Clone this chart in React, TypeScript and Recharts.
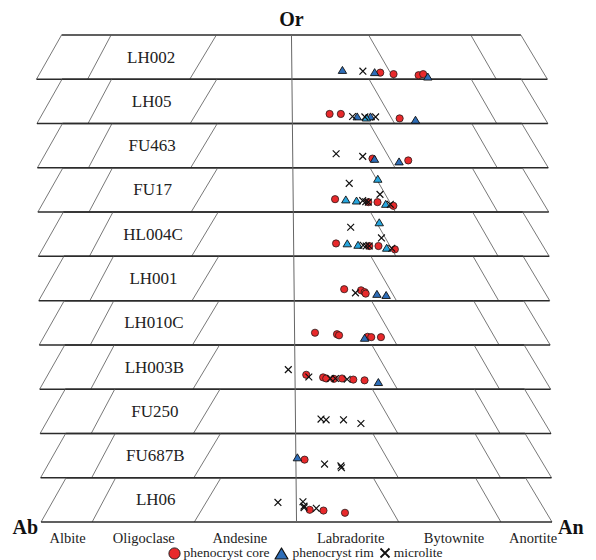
import { ScatterChart, Scatter, XAxis, YAxis, ReferenceLine } from 'recharts';

// Samples, top strip first.
const samples = ['LH002', 'LH05', 'FU463', 'FU17', 'HL004C', 'LH001', 'LH010C', 'LH003B', 'FU250', 'FU687B', 'LH06'];

// Plagioclase fields along the Ab–An base and where their names sit.
const fieldNames = ['Albite', 'Oligoclase', 'Andesine', 'Labradorite', 'Bytownite', 'Anortite'];
const fieldTicks = [6.2, 21.1, 39.9, 61.6, 81.8, 97.3];

// Field boundaries on the bottom and the top edge of every strip (An units).
const divBottom = [0, 10, 30, 50, 70, 90, 100];
const divTop = [5, 14.7, 35.3, 50, 65.1, 85.1, 94.9];

// Height of one strip, in Or units.
const STRIP = 12;

// [sample index, An, Or]
type Pt = [number, number, number];

const cores: Pt[] = [
  [0, 67.3, 1.8], [0, 69.9, 1.4], [0, 74.8, 1.1], [0, 75.7, 1.4],
  [1, 57.3, 2.6], [1, 59.5, 2.6], [1, 71.0, 1.4],
  [2, 65.6, 2.5], [2, 72.6, 2.0],
  [3, 58.2, 3.5], [3, 64.7, 2.7], [3, 66.5, 2.7], [3, 69.6, 1.7],
  [4, 58.3, 3.5], [4, 64.8, 2.8], [4, 66.6, 2.8], [4, 69.8, 1.9],
  [5, 59.8, 3.1], [5, 63.1, 2.8], [5, 63.8, 2.3], [5, 64.0, 1.9],
  [6, 54.0, 3.3], [6, 58.3, 2.9], [6, 58.7, 2.6], [6, 64.3, 2.2], [6, 65.0, 2.1], [6, 66.9, 2.1],
  [7, 52.2, 3.9], [7, 55.5, 3.2], [7, 56.1, 2.9], [7, 57.6, 2.8], [7, 59.2, 2.9], [7, 61.4, 2.6], [7, 63.6, 2.4],
  [9, 51.7, 4.9],
  [10, 52.6, 3.3], [10, 55.3, 3.1], [10, 59.5, 2.5],
];

const rims: Pt[] = [
  [0, 59.9, 2.4], [0, 66.2, 1.8], [0, 76.6, 0.6],
  [1, 62.7, 1.8], [1, 65.3, 1.8], [1, 74.1, 0.9],
  [2, 66.0, 2.3], [2, 70.8, 1.6],
  [5, 66.2, 1.7], [5, 68.0, 1.4],
  [6, 63.7, 1.8],
  [7, 66.3, 1.8],
  [9, 50.3, 5.4],
];

// rims printed in the lighter blue
const rimsLight: Pt[] = [
  [1, 64.5, 1.5],
  [3, 66.6, 8.9], [3, 60.3, 3.3], [3, 62.4, 3.0], [3, 68.1, 2.1],
  [4, 66.8, 9.1], [4, 60.5, 3.4], [4, 62.6, 3.0], [4, 68.2, 2.2],
];

const microlites: Pt[] = [
  [0, 63.9, 2.2],
  [1, 61.8, 1.9], [1, 64.2, 1.8], [1, 66.3, 1.8],
  [2, 58.5, 3.8], [2, 63.7, 3.1],
  [3, 61.0, 7.8], [3, 67.0, 4.8], [3, 63.6, 3.1], [3, 64.2, 2.8], [3, 64.7, 2.7], [3, 69.0, 2.1],
  [4, 61.2, 7.9], [4, 67.2, 5.0], [4, 63.6, 3.0], [4, 64.2, 2.8], [4, 64.8, 2.8], [4, 69.2, 2.2],
  [5, 62.0, 2.1],
  [7, 48.7, 5.3], [7, 52.7, 3.3], [7, 56.9, 2.9], [7, 57.9, 2.9], [7, 60.2, 2.7],
  [8, 55.0, 3.9], [8, 56.0, 3.7], [8, 59.4, 3.7], [8, 62.8, 2.7],
  [9, 55.6, 3.7], [9, 58.8, 3.2], [9, 58.9, 2.7],
  [10, 46.4, 5.3], [10, 51.3, 5.5], [10, 51.5, 4.3], [10, 51.5, 3.9], [10, 53.9, 3.7],
];

const TOP = samples.length * STRIP;
// the printed stack leans a little to the right going down
const LEAN = 0.0075;
const sx = (x: number, y: number) => x + LEAN * (TOP - y);
const base = (i: number) => (samples.length - 1 - i) * STRIP;

const toRows = (pts: Pt[]) =>
  pts.map(([i, an, or]) => {
    const y = base(i) + or;
    return { x: sx(an, y), y };
  });

const nameRows = samples.map((name, i) => {
  const y = base(i) + STRIP / 2;
  return { x: sx(22.5, y), y, name };
});

const apexRows = [
  { x: sx(50, TOP), y: TOP, name: 'Or' },
  { x: sx(0, 0), y: 0, name: 'Ab' },
  { x: sx(100, 0), y: 0, name: 'An' },
];

type Seg = { a: [number, number]; z: [number, number]; edge: boolean };
const segments: Seg[] = [];
samples.forEach((_, i) => {
  const b = base(i);
  const t = b + STRIP;
  segments.push({ a: [divTop[0], t], z: [divTop[divTop.length - 1], t], edge: true });
  divBottom.forEach((d, j) => {
    if (d !== 50) segments.push({ a: [d, b], z: [divTop[j], t], edge: false });
  });
  segments.push({ a: [0, b], z: [100, b], edge: true });
});

const SERIF = "'Times New Roman', 'Liberation Serif', 'DejaVu Serif', serif";
const RED = '#e8292b';
const BLUE = '#2d6db8';
const CYAN = '#27a6de';

function CoreDot(p: any) {
  return <circle cx={p.cx} cy={p.cy} r={3.6} fill={RED} stroke="#2a1a1a" strokeWidth={0.8} />;
}

function rimShape(fill: string) {
  return (p: any) => (
    <path
      d={`M${p.cx},${p.cy - 4} L${p.cx + 4.2},${p.cy + 3} L${p.cx - 4.2},${p.cy + 3} Z`}
      fill={fill}
      stroke="#111"
      strokeWidth={0.9}
      strokeLinejoin="round"
    />
  );
}

function Cross(p: any) {
  const s = 3.4;
  return (
    <path
      d={`M${p.cx - s},${p.cy - s} L${p.cx + s},${p.cy + s} M${p.cx - s},${p.cy + s} L${p.cx + s},${p.cy - s}`}
      stroke="#111"
      strokeWidth={1.2}
      fill="none"
    />
  );
}

function NameLabel(p: any) {
  return (
    <text x={p.cx} y={p.cy} textAnchor="middle" dominantBaseline="central" style={{ fontFamily: SERIF }} fontSize={17} fill="#222">
      {p.payload.name}
    </text>
  );
}

function ApexLabel(p: any) {
  const name = p.payload.name;
  let x = p.cx;
  let y = p.cy + 5;
  let anchor = 'middle';
  if (name === 'Or') y = p.cy - 16;
  if (name === 'Ab') {
    x = p.cx - 3;
    anchor = 'end';
  }
  if (name === 'An') {
    x = p.cx + 6;
    anchor = 'start';
  }
  return (
    <text x={x} y={y} textAnchor={anchor} dominantBaseline="central" style={{ fontFamily: SERIF }} fontWeight="bold" fontSize={20} fill="#111">
      {name}
    </text>
  );
}

function Legend() {
  const item = { display: 'flex', alignItems: 'center', gap: 3 } as const;
  return (
    <div
      style={{
        position: 'absolute',
        left: 0,
        top: 545,
        width: 610,
        display: 'flex',
        justifyContent: 'center',
        gap: 5,
        fontFamily: SERIF,
        fontSize: 13.5,
        color: '#222',
        lineHeight: '16px',
      }}
    >
      <span style={item}>
        <svg width={13} height={13}>
          <circle cx={6.5} cy={6.5} r={5.6} fill={RED} stroke="#222" strokeWidth={1} />
        </svg>
        phenocryst core
      </span>
      <span style={item}>
        <svg width={15} height={13}>
          <path d="M7.5,1 L14,12 L1,12 Z" fill={BLUE} stroke="#111" strokeWidth={1.2} strokeLinejoin="round" />
        </svg>
        phenocryst rim
      </span>
      <span style={item}>
        <svg width={12} height={12}>
          <path d="M1.5,1.5 L10.5,10.5 M1.5,10.5 L10.5,1.5" stroke="#111" strokeWidth={1.8} />
        </svg>
        microlite
      </span>
    </div>
  );
}

// field names sit just under the base line of the last strip
function FieldTick(p: any) {
  const { x, payload, index } = p;
  return (
    <text x={x} y={538} textAnchor="middle" dominantBaseline="central" style={{ fontFamily: SERIF }} fontSize={14.5} fill="#222">
      {fieldNames[index] ?? payload.value}
    </text>
  );
}

export default function App() {
  return (
    <div style={{ position: 'absolute', left: 0, top: 0, width: 596, height: 560, background: '#fff' }}>
      <ScatterChart width={596} height={560} margin={{ top: 35, right: 44, left: 36, bottom: 8 }}>
        <XAxis
          type="number"
          dataKey="x"
          domain={[0, 100]}
          ticks={fieldTicks}
          interval={0}
          axisLine={false}
          tickLine={false}
          height={30}
          tick={<FieldTick />}
        />
        <YAxis type="number" dataKey="y" domain={[0, TOP]} hide />
        {segments.map((s, k) => (
          <ReferenceLine
            key={k}
            segment={[
              { x: sx(s.a[0], s.a[1]), y: s.a[1] },
              { x: sx(s.z[0], s.z[1]), y: s.z[1] },
            ]}
            stroke={s.edge ? '#2b2b2b' : '#555'}
            strokeWidth={s.edge ? 1.5 : 0.8}
            ifOverflow="visible"
          />
        ))}
        <ReferenceLine
          segment={[
            { x: sx(50, TOP), y: TOP },
            { x: sx(50, 0), y: 0 },
          ]}
          stroke="#666"
          strokeWidth={1}
          ifOverflow="visible"
        />
        <Scatter data={nameRows} shape={NameLabel} isAnimationActive={false} />
        <Scatter data={apexRows} shape={ApexLabel} isAnimationActive={false} />
        <Scatter data={toRows(cores)} shape={CoreDot} isAnimationActive={false} />
        <Scatter data={toRows(rims)} shape={rimShape(BLUE)} isAnimationActive={false} />
        <Scatter data={toRows(rimsLight)} shape={rimShape(CYAN)} isAnimationActive={false} />
        <Scatter data={toRows(microlites)} shape={Cross} isAnimationActive={false} />
      </ScatterChart>
      <Legend />
    </div>
  );
}
